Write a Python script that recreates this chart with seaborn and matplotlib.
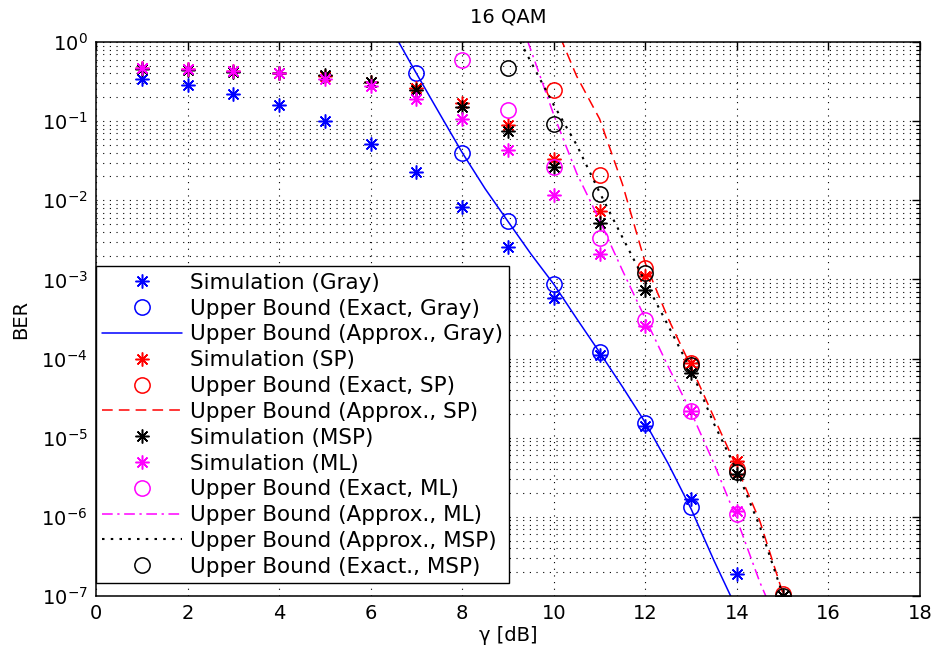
import numpy as np
import pandas as pd
import matplotlib
matplotlib.use("Agg")
import matplotlib.pyplot as plt
import seaborn as sns
from matplotlib.ticker import LogLocator, NullFormatter, FixedLocator

# ---------------- data ----------------
snr_sim = [1, 2, 3, 4, 5, 6, 7, 8, 9, 10, 11, 12, 13, 14, 15]

sim_gray = [0.34, 0.29, 0.22, 0.16, 0.10, 0.051, 0.023, 0.0083, 0.0026,
            5.9e-4, 1.1e-4, 1.4e-5, 1.7e-6, 1.9e-7]
sim_sp = [0.47, 0.45, 0.43, 0.40, 0.37, 0.31, 0.26, 0.17, 0.089, 0.033,
          0.0073, 0.0011, 8.7e-5, 5.1e-6, 1.0e-7]
sim_msp = [0.46, 0.44, 0.42, 0.40, 0.38, 0.31, 0.25, 0.15, 0.075, 0.026,
           0.0051, 7.4e-4, 6.5e-5, 3.5e-6, 1.0e-7]
sim_ml = [0.47, 0.45, 0.43, 0.40, 0.34, 0.28, 0.19, 0.107, 0.043, 0.0116,
          0.0021, 2.6e-4, 2.2e-5, 1.2e-6]

snr_ex_gray = [7, 8, 9, 10, 11, 12, 13]
ex_gray = [0.40, 0.040, 0.0054, 8.7e-4, 1.2e-4, 1.55e-5, 1.35e-6]
snr_ex_sp = [10, 11, 12, 13, 14, 15]
ex_sp = [0.25, 0.021, 0.0014, 8.7e-5, 4.0e-6, 1.05e-7]
snr_ex_msp = [9, 10, 11, 12, 13, 14, 15]
ex_msp = [0.47, 0.091, 0.012, 0.0012, 8.3e-5, 3.7e-6, 1.0e-7]
snr_ex_ml = [8, 9, 10, 11, 12, 13, 14]
ex_ml = [0.59, 0.138, 0.026, 0.0033, 3.1e-4, 2.2e-5, 1.1e-6]

snr_ap_gray = [6.5, 7, 7.5, 8, 8.5, 9, 9.5, 10, 10.5, 11, 11.5, 12, 12.5, 13, 13.5, 14]
ap_gray = [1.3, 0.40, 0.126, 0.040, 0.014, 0.0054, 0.0021, 8.7e-4, 3.2e-4,
           1.2e-4, 4.4e-5, 1.55e-5, 4.7e-6, 1.26e-6, 2.8e-7, 6.8e-8]
snr_ap_sp = [10, 10.5, 11, 11.5, 12, 12.5, 13, 13.5, 14, 14.5, 15]
ap_sp = [1.8, 0.37, 0.107, 0.016, 1.6e-3, 3.2e-4, 7.9e-5, 1.8e-5, 4.2e-6,
         8.9e-7, 1.1e-7]
snr_ap_msp = [9, 9.5, 10, 10.5, 11, 11.5, 12, 12.5, 13, 13.5, 14, 14.5, 15]
ap_msp = [2.0, 0.56, 0.16, 0.050, 0.0126, 3.4e-3, 9.3e-4, 2.6e-4, 7.1e-5,
          1.5e-5, 3.8e-6, 7.6e-7, 1.05e-7]
snr_ap_ml = [9, 9.5, 10, 10.5, 11, 11.5, 12, 12.5, 13, 13.5, 14, 14.5, 15]
ap_ml = [5.0, 0.79, 0.12, 0.022, 5.6e-3, 1.3e-3, 3.2e-4, 7.9e-5, 2.1e-5,
         4.7e-6, 9.3e-7, 1.5e-7, 3.2e-8]

labels = ["Simulation (Gray)", "Upper Bound (Exact, Gray)", "Upper Bound (Approx., Gray)",
          "Simulation (SP)", "Upper Bound (Exact, SP)", "Upper Bound (Approx., SP)",
          "Simulation (MSP)", "Simulation (ML)", "Upper Bound (Exact, ML)",
          "Upper Bound (Approx., ML)", "Upper Bound (Approx., MSP)",
          "Upper Bound (Exact., MSP)"]
x_ticks = [0, 2, 4, 6, 8, 10, 12, 14, 16, 18]

# ---------------- styling ----------------
sns.set_theme(style="white")
plt.rcParams['font.family'] = ['DejaVu Sans']
plt.rcParams['text.color'] = 'black'
plt.rcParams['axes.labelcolor'] = 'black'
plt.rcParams['xtick.color'] = 'black'
plt.rcParams['ytick.color'] = 'black'
plt.rcParams['mathtext.default'] = 'regular'

fig = plt.figure(figsize=(9.33, 6.55), dpi=100)
ax = fig.add_axes([96 / 933, 1 - 596 / 655, (920 - 96) / 933, (596 - 42) / 655])

STAR = (8, 2, 0)
series = [
    (snr_sim[:len(sim_gray)], sim_gray, dict(color='blue', marker=STAR, linestyle='none', ms=10)),
    (snr_ex_gray, ex_gray, dict(color='blue', marker='o', linestyle='none', ms=11)),
    (snr_ap_gray, ap_gray, dict(color='blue', marker=None, linestyle='-', lw=1.1)),
    (snr_sim[:len(sim_sp)], sim_sp, dict(color='red', marker=STAR, linestyle='none', ms=10)),
    (snr_ex_sp, ex_sp, dict(color='red', marker='o', linestyle='none', ms=11)),
    (snr_ap_sp, ap_sp, dict(color='red', marker=None, linestyle=(0, (7, 4)), lw=1.1)),
    (snr_sim[:len(sim_msp)], sim_msp, dict(color='black', marker=STAR, linestyle='none', ms=10)),
    (snr_sim[:len(sim_ml)], sim_ml, dict(color='magenta', marker=STAR, linestyle='none', ms=10)),
    (snr_ex_ml, ex_ml, dict(color='magenta', marker='o', linestyle='none', ms=11)),
    (snr_ap_ml, ap_ml, dict(color='magenta', marker=None, linestyle=(0, (7, 3, 1.5, 3)), lw=1.1)),
    (snr_ap_msp, ap_msp, dict(color='black', marker=None, linestyle=(0, (1.2, 3)), lw=1.5)),
    (snr_ex_msp, ex_msp, dict(color='black', marker='o', linestyle='none', ms=11)),
]

for (xs, ys, st), lab in zip(series, labels):
    df = pd.DataFrame({"snr": xs, "ber": ys})
    kw = dict(color=st['color'], linestyle=st['linestyle'], label=lab)
    if st['marker'] is not None:
        kw.update(marker=st['marker'], markersize=st['ms'], markerfacecolor='none',
                  markeredgecolor=st['color'], markeredgewidth=1.1)
    else:
        kw.update(linewidth=st['lw'])
    sns.lineplot(data=df, x="snr", y="ber", ax=ax, errorbar=None, sort=True, **kw)

ax.set_yscale('log')
ax.set_xlim(0, 18)
ax.set_ylim(1e-7, 1)
ax.xaxis.set_major_locator(FixedLocator(x_ticks))
ax.yaxis.set_major_locator(LogLocator(base=10, numticks=20))
ax.yaxis.set_minor_locator(LogLocator(base=10, subs=np.arange(2, 10), numticks=20))
ax.yaxis.set_minor_formatter(NullFormatter())

grid_ls = (0, (1, 5))
ax.grid(True, which='major', axis='both', color='black', linestyle=grid_ls, linewidth=0.8)
ax.grid(True, which='minor', axis='y', color='black', linestyle=grid_ls, linewidth=0.8)
ax.set_axisbelow(True)

ax.tick_params(which='both', direction='in', top=True, right=True, labelsize=14, pad=6)
ax.tick_params(which='major', length=6, width=1)
ax.tick_params(which='minor', length=3, width=0.8)
for s in ax.spines.values():
    s.set_color('black')
    s.set_linewidth(1.1)

ax.set_title("16 QAM", fontsize=14, pad=14)
ax.set_xlabel("γ [dB]", fontsize=14, labelpad=2)
ax.set_ylabel("BER", fontsize=14, labelpad=8)

leg = ax.legend(loc='lower left', bbox_to_anchor=(0, 0.023), borderaxespad=0,
                frameon=True, fancybox=False, framealpha=1, edgecolor='black',
                fontsize=15.5, handlelength=3.7, handletextpad=0.35, labelspacing=0.27,
                borderpad=0.3)
leg.get_frame().set_linewidth(1.0)

fig.savefig("out.png", dpi=100)
